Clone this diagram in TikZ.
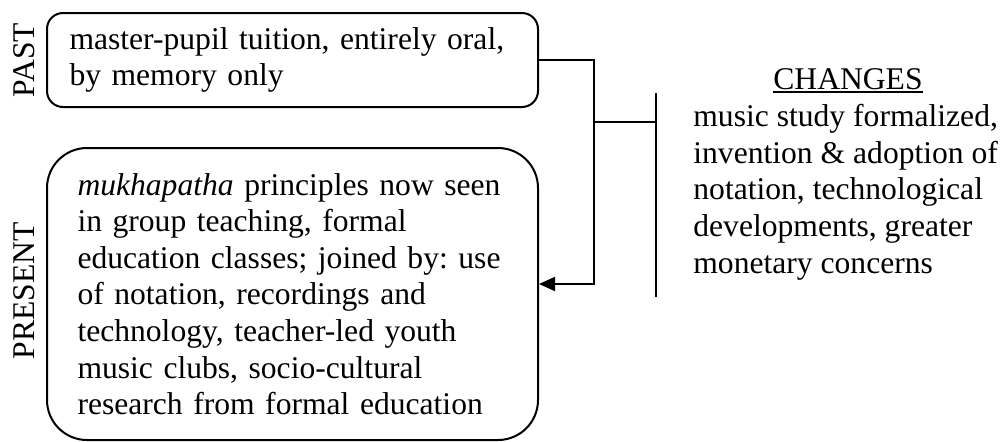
\documentclass[tikz,border=0pt]{standalone}
\usepackage{fontspec}
\setmainfont{Liberation Serif}
\usetikzlibrary{arrows.meta}
\frenchspacing
\begin{document}
\begin{tikzpicture}[x=0.5pt,y=-0.5pt,
  every node/.style={font=\fontsize{15.8}{18.3}\selectfont, inner sep=0pt},
  era/.style={draw, line width=1pt, anchor=north west, align=left, minimum width=245.5pt},
  side/.style={rotate=90},
  link/.style={line width=1pt},
]
\useasboundingbox (0,0) rectangle (1006,441);

% the two periods
\node[era, rounded corners=8pt, minimum height=47pt, inner xsep=11pt, text width=223pt]
  (past) at (46,12) {master-pupil tuition, entirely oral,\\by memory only};
\node[era, rounded corners=20pt, minimum height=146pt, inner xsep=15pt, text width=215pt]
  (present) at (46,147) {\textit{mukhapatha} principles now seen\\in group teaching, formal\\education classes; joined by: use\\of notation, recordings and\\technology, teacher-led youth\\music clubs, socio-cultural\\research from formal education};

\node[side] (pastlbl) at (24,60) {PAST};
\node[side] (presentlbl) at (24,291) {PRESENT};

% what changed
\node[anchor=base] (chead) at (848,89) {CHANGES};
\draw[line width=0.9pt] ([yshift=-1.5pt]chead.base west) -- ([yshift=-1.5pt]chead.base east);
\node[anchor=north west, align=left] (ctext) at (693,104)
  {music study formalized,\\invention \& adoption of\\notation, technological\\developments, greater\\monetary concerns};

\coordinate (bartop) at (656,93);
\coordinate (barbot) at (656,297);
\coordinate (split) at (594,122);
\coordinate (target) at ([yshift=5pt]present.east);

\draw[link] (bartop) -- (barbot);
\draw[link] (split) -- (split -| bartop);
\draw[link, -{Triangle[length=8pt,width=7pt]}]
  (past.east) -| (split) |- (target);
\end{tikzpicture}
\end{document}
